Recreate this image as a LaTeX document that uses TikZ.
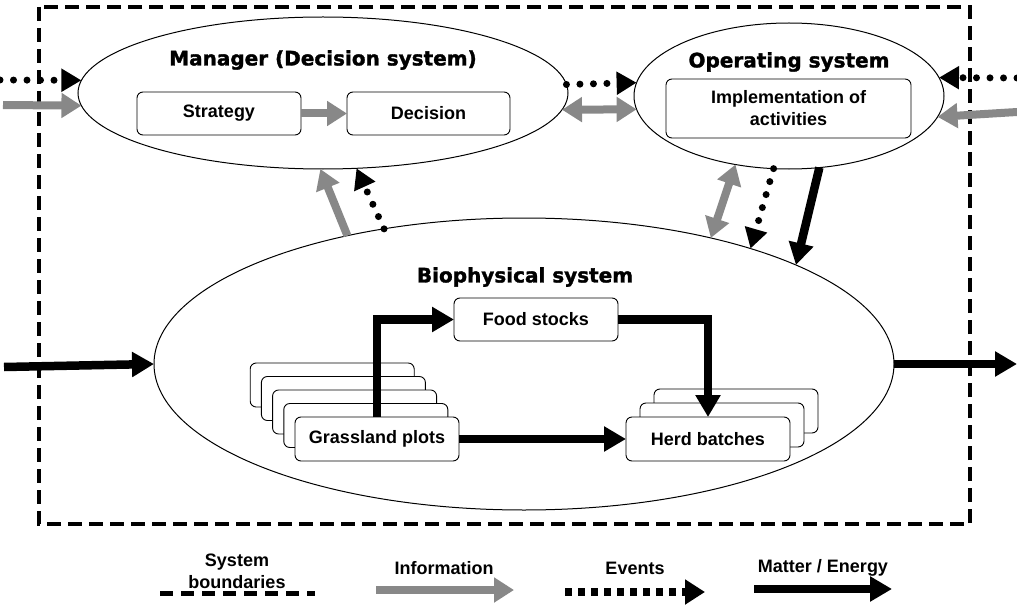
\documentclass[tikz,border=0pt]{standalone}
\usepackage{fontspec}
\setmainfont{Liberation Sans}
\newfontfamily\titlefont{DejaVu Sans}[BoldFeatures={FakeBold=1.6}]
\usetikzlibrary{arrows.meta,shapes.geometric}
\definecolor{infogray}{RGB}{136,136,136}
\tikzset{
  boxtxt/.style={font=\fontsize{18}{22}\selectfont\bfseries},
  titletxt/.style={font=\titlefont\fontsize{20}{24}\selectfont\bfseries},
  sysell/.style={draw, ellipse, line width=1pt, inner sep=0pt, outer sep=0pt, fill=white},
  rbox/.style={draw, rounded corners=6pt, line width=0.9pt, fill=white, inner sep=0pt, outer sep=0pt, boxtxt, align=center},
  info/.style={draw=infogray, line width=8pt, -{Triangle[length=20pt,width=24pt]}},
  infoboth/.style={draw=infogray, line width=8pt, {Triangle[length=20pt,width=24pt]}-{Triangle[length=20pt,width=24pt]}},
  matter/.style={draw=black, line width=8.5pt, -{Triangle[length=22pt,width=24pt]}},
  events/.style={draw=black, line width=7pt, line cap=round, dash pattern=on 0pt off 13.5pt, -{Triangle[length=20pt,width=22pt]}},
  boundary/.style={draw=black, line width=4pt, dash pattern=on 14pt off 7pt},
  lgbound/.style={draw=black, line width=5pt, dash pattern=on 13pt off 8pt},
  lgevents/.style={draw=black, line width=8pt, dash pattern=on 7pt off 6pt, -{Triangle[length=20pt,width=24pt]}},
}
\begin{document}
\begin{tikzpicture}[x=1pt,y=-1pt]
\useasboundingbox (0,0) rectangle (1017,607);
% system boundary
\draw[boundary] (39,7) rectangle (970,524);
% ellipses
\node[sysell, minimum width=490pt, minimum height=152pt] (mgr) at (323,93) {};
\node[sysell, minimum width=310pt, minimum height=146pt] (ops) at (789,96) {};
\node[sysell, minimum width=740pt, minimum height=292pt] (bio) at (524,364) {};
% titles
\node[titletxt] (mgrT) at (323,60) {Manager (Decision system)};
\node[titletxt] (opsT) at (789,62) {Operating system};
\node[titletxt] (bioT) at (525,277) {Biophysical system};
% manager boxes
\node[rbox, minimum width=164pt, minimum height=43pt] (strat) at (219,113.5) {Strategy};
\node[rbox, minimum width=163pt, minimum height=43pt] (dec) at (428.5,113.5) {Decision};
\node[rbox, minimum width=245pt, minimum height=59pt] (impl) at (788.5,108.5) {Implementation of\\activities};
% biophysical boxes
\node[rbox, minimum width=164pt, minimum height=43pt] (food) at (536,319.5) {Food stocks};
\foreach \k in {4,3,2,1}
  \node[rbox, minimum width=164pt, minimum height=44pt] (gp\k) at ({377-11.2*\k},{439-13.5*\k}) {};
\node[rbox, minimum width=164pt, minimum height=44pt] (gp) at (377,439) {Grassland plots};
\foreach \k in {2,1}
  \node[rbox, minimum width=164pt, minimum height=44pt] (hb\k) at ({708+14*\k},{439-14*\k}) {};
\node[rbox, minimum width=164pt, minimum height=44pt] (hb) at (708,439) {Herd batches};
% internal flows
\draw[info] (strat.east) -- (dec.west);
\draw[matter] (gp.north) |- (food.west);
\draw[matter] (food.east) -| (hb.north);
\draw[matter] (gp.east) -- (hb.west);
% free ends
\coordinate (inEv) at (0,80);
\coordinate (inInfo) at (3,105);
\coordinate (inOpsEv) at (1017,78);
\coordinate (inOpsInfo) at (1017,112);
\coordinate (inMat) at (4,367);
\coordinate (outMat) at (1017,364);
% external inputs
\draw[events] (inEv) -- (mgr.177);
\draw[info] (inInfo) -- (mgr.183);
\draw[events] (inOpsEv) -- (ops.7);
\draw[info] (inOpsInfo) -- (ops.-8);
\draw[matter] (inMat) -- (bio.180);
\draw[matter] (bio.0) -- (outMat);
% manager <-> operating
\draw[events] (mgr.2.4) -- (ops.175);
\draw[infoboth] (mgr.-4) -- (ops.185);
% biophysical -> manager
\draw[info] (bio.144) -- (mgr.-92);
\draw[events] (bio.136) -- (mgr.-66);
% operating <-> biophysical
\draw[infoboth] (bio.34) -- (ops.-128);
\draw[events] (ops.-102) -- (bio.27);
\draw[matter] (ops.-67) -- (bio.20);
% legend
\node[boxtxt, align=center] (lgB) at (237,571) {System\\boundaries};
\coordinate (lgBa) at (160,593);
\coordinate (lgBb) at (315,593);
\draw[lgbound] (lgBa) -- (lgBb);
\node[boxtxt] (lgI) at (444,568) {Information};
\coordinate (lgIa) at (376,590);
\coordinate (lgIb) at (514,590);
\draw[info] (lgIa) -- (lgIb);
\node[boxtxt] (lgE) at (635,568) {Events};
\coordinate (lgEa) at (565,592);
\coordinate (lgEb) at (705,592);
\draw[lgevents] (lgEa) -- (lgEb);
\node[boxtxt] (lgM) at (823,568) {Matter / Energy};
\coordinate (lgMa) at (754,589);
\coordinate (lgMb) at (892,589);
\draw[matter] (lgMa) -- (lgMb);
\end{tikzpicture}
\end{document}
